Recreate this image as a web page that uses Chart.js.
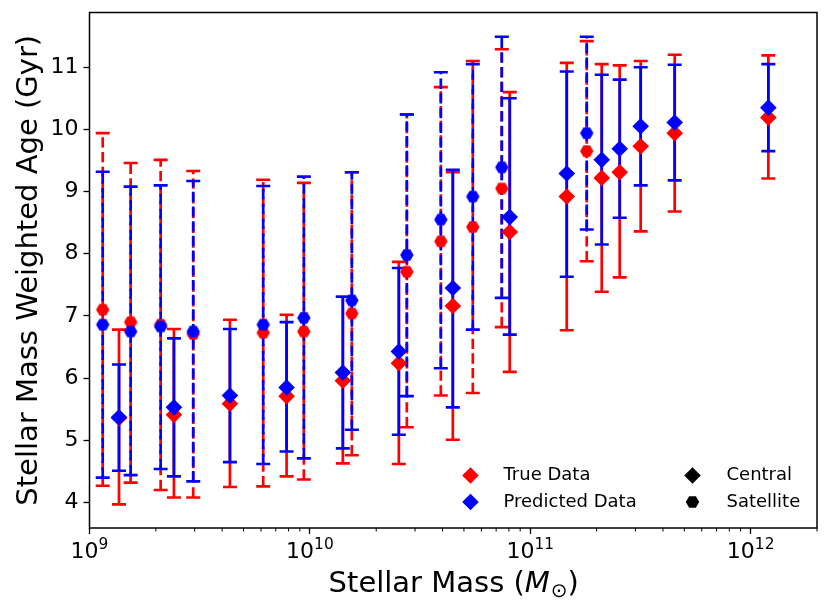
<!DOCTYPE html>
<html>
<head>
<meta charset="utf-8">
<title>Stellar mass weighted age</title>
<script src="https://cdn.jsdelivr.net/npm/chart.js@4.4.0/dist/chart.umd.min.js"></script>
<style>
  html, body { margin: 0; padding: 0; background: #fff; }
  #wrap { width: 830px; height: 612px; position: relative; }
</style>
</head>
<body>
<div id="wrap"><canvas id="myChart"></canvas></div>
<script>
'use strict';

// stellar mass bins (M_sun)
let stellarMass = [1.148e9, 1.361e9, 1.537e9, 2.103e9, 2.416e9, 2.956e9, 4.337e9, 6.14e9, 7.84e9, 9.39e9,
    1.411e10, 1.55e10, 2.533e10, 2.754e10, 3.928e10, 4.452e10, 5.486e10, 7.425e10, 8.07e10,
    1.464e11, 1.804e11, 2.11e11, 2.546e11, 3.17e11, 4.522e11, 1.203e12];

// 1 = satellite (dashed), 0 = central (solid)
let satellite = [1, 0, 1, 1, 0, 1, 0, 1, 0, 1, 0, 1, 0, 1, 1, 0, 1, 1, 0, 0, 1, 0, 0, 0, 0, 0];

let trueAge = [7.10, 5.36, 6.90, 6.86, 5.41, 6.71, 5.59, 6.73, 5.71, 6.75, 5.96, 7.04, 6.24, 7.71, 8.20, 7.16, 8.43, 9.05, 8.35, 8.92, 9.65, 9.22, 9.31, 9.73, 9.94, 10.19];
let trueLo = [4.27, 3.97, 4.32, 4.20, 4.08, 4.08, 4.25, 4.26, 4.42, 4.37, 4.63, 4.76, 4.62, 5.21, 5.72, 5.01, 5.76, 6.82, 6.10, 6.77, 7.88, 7.39, 7.62, 8.36, 8.68, 9.21];
let trueHi = [9.94, 6.78, 9.46, 9.51, 6.79, 9.33, 6.94, 9.19, 7.02, 9.14, 7.31, 9.31, 7.87, 10.24, 10.68, 9.31, 11.10, 11.29, 10.60, 11.07, 11.42, 11.05, 11.03, 11.10, 11.20, 11.19];

let predAge = [6.86, 5.37, 6.75, 6.83, 5.53, 6.75, 5.72, 6.86, 5.85, 6.97, 6.09, 7.25, 6.43, 7.98, 8.55, 7.45, 8.92, 9.39, 8.59, 9.29, 9.94, 9.51, 9.69, 10.05, 10.11, 10.35];
let predLo = [4.40, 4.51, 4.44, 4.54, 4.42, 4.34, 4.65, 4.62, 4.82, 4.71, 4.87, 5.17, 5.09, 5.71, 6.16, 5.53, 6.78, 7.29, 6.70, 7.63, 8.39, 8.15, 8.58, 9.10, 9.18, 9.65];
let predHi = [9.32, 6.22, 9.08, 9.10, 6.64, 9.17, 6.79, 9.09, 6.90, 9.24, 7.31, 9.31, 7.77, 10.24, 10.92, 9.35, 11.05, 11.49, 10.50, 10.93, 11.49, 10.88, 10.80, 11.00, 11.04, 11.05];

let xTicks = [1e9, 1e10, 1e11, 1e12];
let xTickBase = ['10', '10', '10', '10'];
let xTickExp = ['9', '10', '11', '12'];
let yTicks = [4, 5, 6, 7, 8, 9, 10, 11];

let dataLabels = ['True Data', 'Predicted Data'];
let typeLabels = ['Central', 'Satellite'];

let xTitle = ['Stellar Mass (', 'M', '\u2299', ')'];
let yTitle = 'Stellar Mass Weighted Age (Gyr)';

let fontName = '"DejaVu Sans", sans-serif';
let red = '#ff0000';
let blue = '#0000ff';

function hexagon(color, r) {
    let c = document.createElement('canvas');
    c.width = Math.ceil(r * 2) + 2;
    c.height = Math.ceil(r * 2) + 2;
    let g = c.getContext('2d');
    g.beginPath();
    for (let k = 0; k < 6; k++) {
        let a = Math.PI / 3 * k;
        g.lineTo(c.width / 2 + r * Math.cos(a), c.height / 2 + r * Math.sin(a));
    }
    g.closePath();
    g.fillStyle = color;
    g.fill();
    return c;
}

function hexPath(ctx, x, y, r) {
    ctx.beginPath();
    for (let k = 0; k < 6; k++) {
        let a = Math.PI / 3 * k;
        ctx.lineTo(x + r * Math.cos(a), y + r * Math.sin(a));
    }
    ctx.closePath();
}

function diamondPath(ctx, x, y, r) {
    ctx.beginPath();
    ctx.moveTo(x - r, y);
    ctx.lineTo(x, y - r);
    ctx.lineTo(x + r, y);
    ctx.lineTo(x, y + r);
    ctx.closePath();
}

let datasets = [];

function errorBars(lo, hi, color, order) {
    for (let i = 0; i < stellarMass.length; i++) {
        datasets.push({
            data: [{ x: stellarMass[i], y: lo[i] }, { x: stellarMass[i], y: hi[i] }],
            showLine: true,
            borderColor: color,
            borderWidth: 2.7,
            borderDash: satellite[i] ? [10.3, 4.4] : [],
            pointStyle: 'line',
            pointRadius: 7,
            pointHoverRadius: 7,
            pointBorderWidth: 2.6,
            pointBorderColor: color,
            order: order
        });
    }
}

function markers(age, color, order) {
    let central = [];
    let sat = [];
    for (let i = 0; i < stellarMass.length; i++) {
        let p = { x: stellarMass[i], y: age[i] };
        if (satellite[i]) sat.push(p); else central.push(p);
    }
    datasets.push({
        data: central,
        pointStyle: 'rectRot',
        pointRadius: 8.3,
        pointHoverRadius: 8.3,
        pointBorderWidth: 0,
        pointBackgroundColor: color,
        order: order
    });
    datasets.push({
        data: sat,
        pointStyle: hexagon(color, 6.7),
        pointRadius: 6.7,
        pointHoverRadius: 6.7,
        pointBorderWidth: 0,
        pointBackgroundColor: color,
        order: order
    });
}

errorBars(trueLo, trueHi, red, 4);
errorBars(predLo, predHi, blue, 3);
markers(trueAge, red, 2);
markers(predAge, blue, 1);

let decorations = {
    id: 'decorations',
    afterDraw(chart) {
        let ctx = chart.ctx;
        let area = chart.chartArea;
        let xs = chart.scales.x;
        ctx.save();

        // frame
        ctx.strokeStyle = '#000';
        ctx.lineWidth = 1.5;
        ctx.strokeRect(area.left, area.top, area.right - area.left, area.bottom - area.top);

        // minor ticks on the log axis
        ctx.lineWidth = 1;
        for (let d = 9; d <= 12; d++) {
            for (let k = 2; k <= 9; k++) {
                let v = k * Math.pow(10, d);
                if (v > xs.max) continue;
                let px = xs.getPixelForValue(v);
                ctx.beginPath();
                ctx.moveTo(px, area.bottom);
                ctx.lineTo(px, area.bottom + 3.5);
                ctx.stroke();
            }
        }

        // x tick labels with superscript exponents
        ctx.fillStyle = '#000';
        ctx.textBaseline = 'alphabetic';
        ctx.textAlign = 'left';
        for (let i = 0; i < xTicks.length; i++) {
            let px = xs.getPixelForValue(xTicks[i]);
            ctx.font = '22px ' + fontName;
            let wb = ctx.measureText(xTickBase[i]).width;
            ctx.font = '15.4px ' + fontName;
            let we = ctx.measureText(xTickExp[i]).width;
            let start = px - (wb + we) / 2;
            ctx.font = '22px ' + fontName;
            ctx.fillText(xTickBase[i], start, 558);
            ctx.font = '15.4px ' + fontName;
            ctx.fillText(xTickExp[i], start + wb, 549);
        }

        // x title
        let parts = [
            { t: xTitle[0], f: '29px ' + fontName, dy: 0 },
            { t: xTitle[1], f: 'italic 29px ' + fontName, dy: 0 },
            { t: xTitle[2], f: '20px ' + fontName, dy: 5 },
            { t: xTitle[3], f: '29px ' + fontName, dy: 0 }
        ];
        let total = 0;
        parts.forEach(p => { ctx.font = p.f; p.w = ctx.measureText(p.t).width; total += p.w; });
        let cx = (area.left + area.right) / 2 - total / 2;
        parts.forEach(p => {
            ctx.font = p.f;
            ctx.fillText(p.t, cx, 592 + p.dy);
            cx += p.w + (p.t === xTitle[1] ? 1 : 0);
        });

        // y title
        ctx.save();
        ctx.translate(37, (area.top + area.bottom) / 2);
        ctx.rotate(-Math.PI / 2);
        ctx.textAlign = 'center';
        ctx.font = '29px ' + fontName;
        ctx.fillText(yTitle, 0, 0);
        ctx.restore();

        // legend
        let lx1 = area.left + 381;
        let lx2 = area.left + 603;
        let ly = [area.top + 463, area.top + 489.5];
        ctx.fillStyle = red;
        diamondPath(ctx, lx1, ly[0], 8.3);
        ctx.fill();
        ctx.fillStyle = blue;
        diamondPath(ctx, lx1, ly[1], 8.3);
        ctx.fill();
        ctx.fillStyle = '#000';
        diamondPath(ctx, lx2, ly[0], 8.3);
        ctx.fill();
        hexPath(ctx, lx2, ly[1], 6.7);
        ctx.fill();
        ctx.font = '18px ' + fontName;
        ctx.textAlign = 'left';
        ctx.fillText(dataLabels[0], lx1 + 33, ly[0] + 4.5);
        ctx.fillText(dataLabels[1], lx1 + 33, ly[1] + 4.5);
        ctx.fillText(typeLabels[0], lx2 + 34, ly[0] + 4.5);
        ctx.fillText(typeLabels[1], lx2 + 34, ly[1] + 4.5);

        ctx.restore();
    }
};

let ctx = document.getElementById('myChart').getContext('2d');

let myChart = new Chart(ctx, {
    type: 'scatter',
    data: { datasets: datasets },
    options: {
        responsive: true,
        maintainAspectRatio: false,
        animation: false,
        events: [],
        layout: { padding: { top: 12.5, right: 13, left: 0, bottom: 0 } },
        plugins: {
            legend: { display: false },
            tooltip: { enabled: false }
        },
        scales: {
            x: {
                type: 'logarithmic',
                min: 1e9,
                max: 2e12,
                border: { display: false },
                grid: { drawOnChartArea: false, drawTicks: true, tickLength: 6, tickColor: '#000', tickWidth: 1.3 },
                ticks: { display: false },
                afterBuildTicks: function (scale) {
                    scale.ticks = xTicks.map(v => ({ value: v, major: true }));
                },
                afterFit: function (scale) {
                    scale.height = 84;
                    scale.paddingLeft = 0;
                    scale.paddingRight = 0;
                }
            },
            y: {
                min: 3.59,
                max: 11.88,
                border: { display: false },
                grid: { drawOnChartArea: false, drawTicks: true, tickLength: 6, tickColor: '#000', tickWidth: 1.3 },
                ticks: {
                    color: '#000',
                    padding: 5,
                    font: { family: fontName, size: 22 }
                },
                afterBuildTicks: function (scale) {
                    scale.ticks = yTicks.map(v => ({ value: v }));
                },
                afterFit: function (scale) {
                    scale.width = 89.5;
                    scale.paddingTop = 0;
                    scale.paddingBottom = 0;
                }
            }
        }
    },
    plugins: [decorations]
});
</script>
</body>
</html>
